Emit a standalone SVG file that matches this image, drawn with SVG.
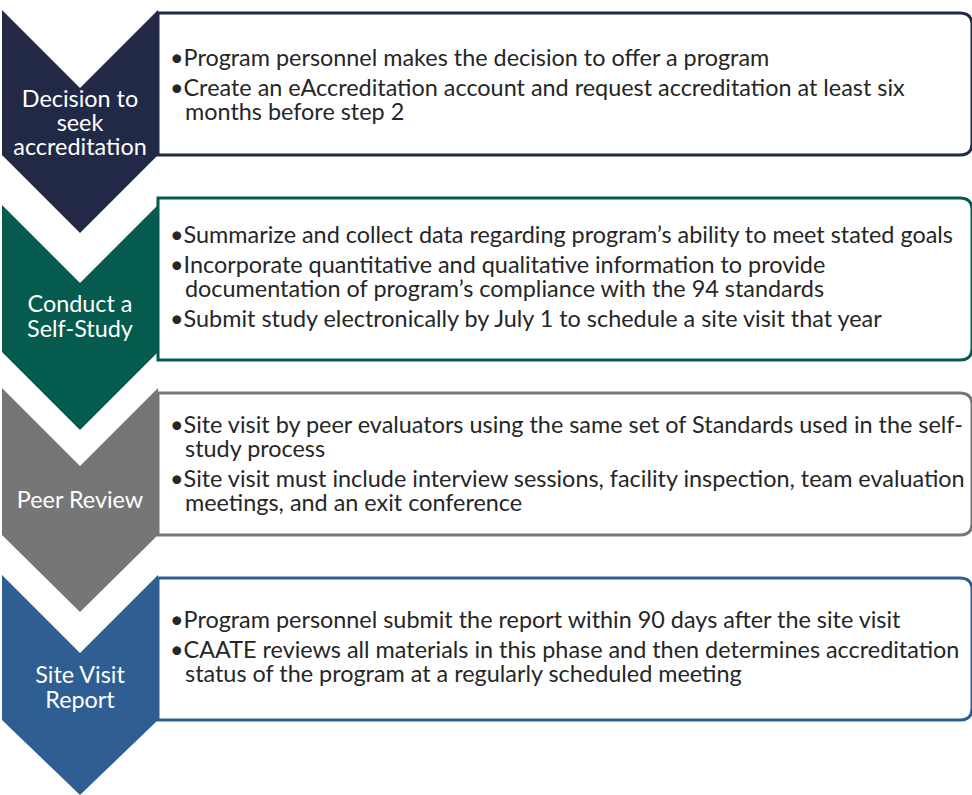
<svg xmlns="http://www.w3.org/2000/svg" width="972" height="795" viewBox="0 0 972 795">
  <style>
    .lbl { font-family: Lato, "Liberation Sans", sans-serif; font-size: 23.4px; fill: #ffffff; text-anchor: middle; }
    .txt { font-family: Lato, "Liberation Sans", sans-serif; font-size: 23.4px; fill: #262626; }
    .box { fill: #ffffff; stroke-width: 3; }
    .navy { fill: #222946; }
    .green { fill: #055b4d; }
    .gray { fill: #767676; }
    .blue { fill: #2f5e93; }
  </style>
  <rect width="972" height="795" fill="#ffffff"/>

  <!-- Step 1 -->
  <g id="step1">
    <path class="box" stroke="#222946" d="M158,13 H960 Q972,13 972,25 V143 Q972,155 960,155 H158 Z"/>
    <path class="navy" d="M2,10 L80,88 L158,10 V155 L80,233 L2,155 Z"/>
    <text class="lbl" x="80" y="107">Decision to</text>
    <text class="lbl" x="80" y="131">seek</text>
    <text class="lbl" x="80" y="155">accreditation</text>
    <text class="txt" x="170" y="66">•Program personnel makes the decision to offer a program</text>
    <text class="txt" x="170" y="96">•Create an eAccreditation account and request accreditation at least six</text>
    <text class="txt" x="185" y="120">months before step 2</text>
  </g>

  <!-- Step 2 -->
  <g id="step2">
    <path class="box" stroke="#055b4d" d="M158,198 H960 Q972,198 972,210 V348 Q972,360 960,360 H158 Z"/>
    <path class="green" d="M2,205 L80,283 L158,205 V352 L80,430 L2,352 Z"/>
    <text class="lbl" x="80" y="312">Conduct a</text>
    <text class="lbl" x="80" y="337">Self-Study</text>
    <text class="txt" x="170" y="243">•Summarize and collect data regarding program’s ability to meet stated goals</text>
    <text class="txt" x="170" y="273">•Incorporate quantitative and qualitative information to provide</text>
    <text class="txt" x="185" y="297">documentation of program’s compliance with the 94 standards</text>
    <text class="txt" x="170" y="327">•Submit study electronically by July 1 to schedule a site visit that year</text>
  </g>

  <!-- Step 3 -->
  <g id="step3">
    <path class="box" stroke="#767676" d="M158,393 H960 Q972,393 972,405 V523 Q972,535 960,535 H158 Z"/>
    <path class="gray" d="M2,388 L80,466 L158,388 V535 L80,612 L2,535 Z"/>
    <text class="lbl" x="80" y="508">Peer Review</text>
    <text class="txt" x="170" y="433">•Site visit by peer evaluators using the same set of Standards used in the self-</text>
    <text class="txt" x="185" y="457">study process</text>
    <text class="txt" x="170" y="487">•Site visit must include interview sessions, facility inspection, team evaluation</text>
    <text class="txt" x="185" y="511">meetings, and an exit conference</text>
  </g>

  <!-- Step 4 -->
  <g id="step4">
    <path class="box" stroke="#2f5e93" d="M158,578 H960 Q972,578 972,590 V708 Q972,720 960,720 H158 Z"/>
    <path class="blue" d="M2,575 L80,653 L158,575 V720 L80,795 L2,720 Z"/>
    <text class="lbl" x="80" y="683">Site Visit</text>
    <text class="lbl" x="80" y="708">Report</text>
    <text class="txt" x="170" y="628">•Program personnel submit the report within 90 days after the site visit</text>
    <text class="txt" x="170" y="658">•CAATE reviews all materials in this phase and then determines accreditation</text>
    <text class="txt" x="185" y="682">status of the program at a regularly scheduled meeting</text>
  </g>

  <g id="connectors"/>
</svg>
